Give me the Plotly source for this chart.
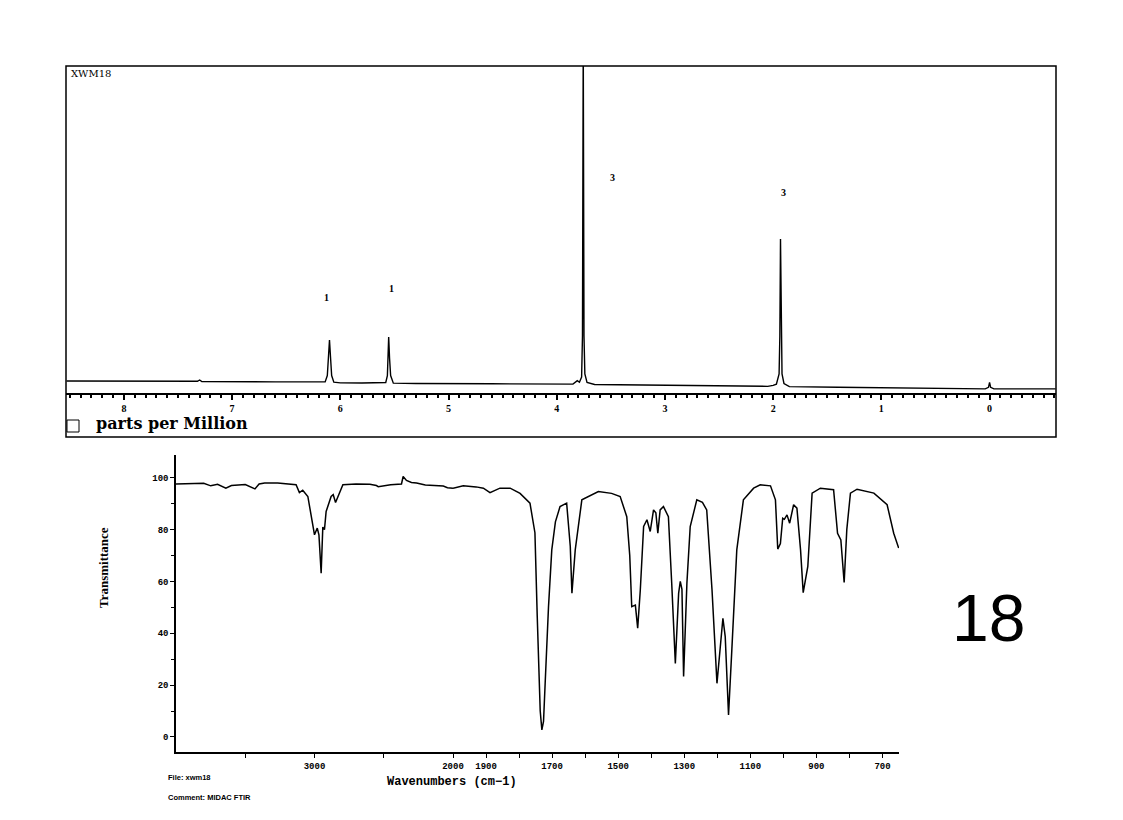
import plotly.graph_objects as go

# ---- 1H NMR trace (ppm, relative intensity) ----
nmr_ppm = [8.53, 7.8, 7.32, 7.30, 7.28, 6.6, 6.20, 6.14, 6.12, 6.11, 6.10, 6.09, 6.08, 6.06,
           6.0, 5.80, 5.65, 5.58, 5.565, 5.558, 5.553, 5.545, 5.535, 5.51, 5.3, 4.6, 4.0,
           3.85, 3.81, 3.79, 3.77, 3.762, 3.755, 3.748, 3.74, 3.72, 3.65, 3.2, 2.6, 2.05,
           2.00, 1.97, 1.945, 1.938, 1.932, 1.925, 1.918, 1.90, 1.85, 1.4, 0.8, 0.3, 0.04,
           0.01, 0.0, -0.01, -0.04, -0.3, -0.61]
nmr_int = [0.8, 0.7, 0.7, 1.1, 0.6, 0.5, 0.4, 0.5, 2.5, 8.0, 13.7, 8.0, 2.5, 0.4,
           0.2, 0.15, 0.1, 0.3, 2.5, 8.0, 14.6, 8.0, 2.5, 0.1, 0.0, -0.1, -0.2,
           -0.2, 0.9, 0.4, 2.0, 15.0, 110.0, 15.0, 3.0, 0.3, -0.3, -0.5, -0.7, -0.9,
           -0.6, -0.2, 3.0, 15.0, 45.5, 15.0, 3.0, 0.0, -1.0, -1.2, -1.5, -1.7, -1.7,
           -1.2, 0.3, -1.2, -1.7, -1.7, -1.7]

nmr_ticks = [0, 1, 2, 3, 4, 5, 6, 7, 8]
nmr_integrals = [(6.13, 27, "1"), (5.53, 30, "1"), (3.48, 65, "3"), (1.90, 60, "3")]

# ---- IR spectrum (wavenumber cm-1, %T) ----
ir_hi_wn = [4000, 3900, 3800, 3749, 3700, 3640, 3600, 3500, 3430, 3400, 3360, 3266, 3200,
            3133, 3109, 3085, 3048, 3024, 3000, 2980, 2968, 2952, 2940, 2928, 2916, 2880,
            2865, 2848, 2830, 2795, 2700, 2600, 2553, 2540, 2450, 2372, 2360, 2345, 2336,
            2300, 2263, 2200, 2120, 2070, 2040, 2000]
ir_hi_t = [97.6, 97.8, 97.9, 96.9, 97.5, 96.0, 97.0, 97.4, 95.7, 97.6, 98.0, 98.0, 97.7,
           97.3, 94.3, 95.2, 92.8, 85.0, 78.0, 80.6, 78.0, 63.2, 81.0, 80.0, 87.0, 92.8,
           93.5, 90.5, 92.8, 97.3, 97.6, 97.5, 97.0, 96.6, 97.3, 97.6, 100.5, 99.3, 99.0,
           98.2, 98.0, 97.2, 97.0, 96.8, 96.2, 96.0]

ir_lo_wn = [2000, 1969, 1930, 1908, 1888, 1858, 1827, 1797, 1767, 1757, 1752, 1745, 1741,
            1736, 1731, 1726, 1721, 1711, 1701, 1690, 1676, 1656, 1645, 1640, 1630, 1610,
            1560, 1520, 1494, 1474, 1465, 1459, 1448, 1441, 1433, 1423, 1413, 1403, 1393,
            1386, 1380, 1373, 1363, 1348, 1338, 1327, 1317, 1312, 1307, 1302, 1292, 1282,
            1262, 1245, 1232, 1216, 1201, 1191, 1183, 1176, 1166, 1156, 1141, 1121, 1090,
            1070, 1039, 1024, 1017, 1009, 1002, 997, 989, 981, 969, 959, 948, 940, 933,
            926, 913, 888, 848, 836, 826, 816, 808, 797, 777, 726, 686, 666, 651]
ir_lo_t = [96.0, 96.9, 96.5, 96.0, 94.3, 96.0, 96.0, 94.0, 90.2, 82.5, 78.8, 46.5, 30.0,
           10.0, 2.7, 6.0, 20.8, 50.0, 72.2, 83.0, 88.9, 90.2, 73.5, 55.5, 72.2, 91.5,
           94.7, 94.0, 92.8, 85.0, 70.0, 50.3, 50.9, 42.0, 56.8, 81.2, 83.8, 79.3, 87.6,
           86.5, 78.6, 87.6, 88.9, 85.0, 59.3, 28.4, 55.5, 60.0, 57.0, 23.3, 59.3, 81.2,
           91.5, 90.5, 87.6, 56.8, 20.7, 33.6, 45.8, 38.7, 8.5, 33.6, 72.2, 91.5, 96.0,
           97.3, 96.9, 91.5, 72.5, 74.6, 84.4, 84.0, 85.7, 82.5, 89.6, 88.3, 72.2, 55.7,
           60.7, 65.8, 94.1, 96.0, 95.4, 78.6, 76.0, 59.6, 80.0, 94.1, 95.6, 94.1, 89.6,
           78.6, 72.9]

ir_yticks = [0, 20, 40, 60, 80, 100]
ir_hi_ticks = [3500, 3000, 2500]
ir_hi_labels = ["", "3000", ""]
ir_lo_ticks = [2000, 1900, 1800, 1700, 1600, 1500, 1400, 1300, 1200, 1100, 1000, 900, 800, 700]
ir_lo_labels = ["2000", "1900", "", "1700", "", "1500", "", "1300", "", "1100", "", "900", "", "700"]

W, H = 1123, 820
OFF = 8  # page body margin


def px(x):
    return (x - OFF) / W


def py(y):
    return 1 - (y - OFF) / H


fig = go.Figure()

fig.add_trace(go.Scatter(x=nmr_ppm, y=nmr_int, mode="lines", xaxis="x", yaxis="y",
                         line=dict(color="black", width=1.4), showlegend=False))
fig.add_trace(go.Scatter(x=ir_hi_wn, y=ir_hi_t, mode="lines", xaxis="x2", yaxis="y2",
                         line=dict(color="black", width=1.5), showlegend=False))
fig.add_trace(go.Scatter(x=ir_lo_wn, y=ir_lo_t, mode="lines", xaxis="x3", yaxis="y3",
                         line=dict(color="black", width=1.5), showlegend=False))

serif = "Liberation Serif"
mono = "Liberation Mono"
tickfont_ir = dict(family=mono, size=9, color="black", weight="bold")

fig.update_layout(
    width=W, height=H,
    margin=dict(l=0, r=0, t=0, b=0, autoexpand=False),
    paper_bgcolor="white", plot_bgcolor="white",
    xaxis=dict(domain=[px(66), px(1056)], range=[8.535, -0.614], anchor="y",
               showline=True, linecolor="black", linewidth=1.5, showgrid=False, zeroline=False,
               tickvals=nmr_ticks, ticks="outside", ticklen=5, tickwidth=1.5, tickcolor="black",
               minor=dict(dtick=0.1, ticks="outside", ticklen=3, tickcolor="black", showgrid=False),
               tickfont=dict(family=serif, size=10, color="black", weight="bold")),
    yaxis=dict(domain=[py(393), py(66)], range=[-3, 100], visible=False),
    xaxis2=dict(domain=[px(176), px(453)], range=[4000, 2000], anchor="y2",
                showline=True, linecolor="black", linewidth=1.5, showgrid=False, zeroline=False,
                tickvals=ir_hi_ticks, ticktext=ir_hi_labels, ticks="outside", ticklen=4,
                tickcolor="black", tickfont=tickfont_ir),
    xaxis3=dict(domain=[px(453), px(899)], range=[2000, 650], anchor="y3",
                showline=True, linecolor="black", linewidth=1.5, showgrid=False, zeroline=False,
                tickvals=ir_lo_ticks, ticktext=ir_lo_labels, ticks="outside", ticklen=4,
                tickcolor="black", tickfont=tickfont_ir),
    yaxis2=dict(domain=[py(752), py(455)], range=[-5.8, 108.8], anchor="x2",
                showline=True, linecolor="black", linewidth=1.5, showgrid=False, zeroline=False,
                tickvals=ir_yticks, ticks="outside", ticklen=4, tickcolor="black",
                minor=dict(dtick=10, ticks="outside", ticklen=3, tickcolor="black", showgrid=False),
                tickfont=tickfont_ir),
    yaxis3=dict(domain=[py(752), py(455)], range=[-5.8, 108.8], anchor="x3", visible=False),
)

# NMR frame and small box icon
fig.add_shape(type="rect", xref="paper", yref="paper", x0=px(66), x1=px(1056),
              y0=py(437), y1=py(66), line=dict(color="black", width=1.5))
fig.add_shape(type="rect", xref="paper", yref="paper", x0=px(67), x1=px(79),
              y0=py(432), y1=py(420), line=dict(color="black", width=1))

for x, y, t in nmr_integrals:
    fig.add_annotation(x=x, y=y, xref="x", yref="y", text=t, showarrow=False,
                       font=dict(family=serif, size=10, color="black", weight="bold"))

texts = [
    (69, 74, "XWM18", dict(family="DejaVu Serif", size=10, color="black"), "left"),
    (94, 423, "parts per Million", dict(family="DejaVu Serif", size=16, color="black", weight="bold"), "left"),
    (452, 782, "Wavenumbers (cm\u22121)", dict(family=mono, size=12, color="black", weight="bold"), "center"),
    (166, 777, "File: xwm18", dict(family="Liberation Sans", size=7.5, color="black", weight="bold"), "left"),
    (166, 797, "Comment: MIDAC FTIR", dict(family="Liberation Sans", size=7.5, color="black", weight="bold"), "left"),
    (988, 618, "18", dict(family="Liberation Sans", size=66, color="black"), "center"),
]
for x, y, t, f, a in texts:
    fig.add_annotation(x=px(x), y=py(y), xref="paper", yref="paper", text=t, showarrow=False,
                       font=f, xanchor=a, yanchor="middle")

fig.add_annotation(x=px(94), y=py(610), xref="paper", yref="paper", text="Transmittance",
                   showarrow=False, textangle=-90,
                   font=dict(family=serif, size=13, color="black", weight="bold"))

fig.write_html("out.html")
